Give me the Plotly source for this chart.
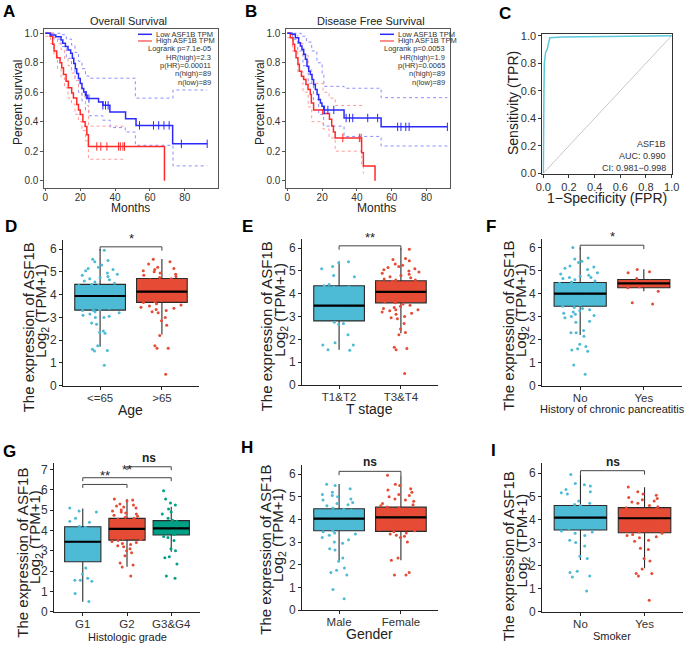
import numpy as np
import plotly.graph_objects as go

W, H = 685, 645
FONT = "Arial, Liberation Sans, sans-serif"
BLUE, RED, GREEN = "#4DBBD5", "#E64B35", "#00A087"

# ---------------- Kaplan-Meier data (A: overall survival) ----------------
A_low_t = [0, 3, 6, 9, 10, 11.5, 13, 14.5, 15.5, 16.3, 17.2, 18, 19, 20, 21, 22, 23, 24, 30.5, 33, 37, 46, 52, 73, 92.8]
A_low_s = [1.0, 0.989, 0.977, 0.955, 0.932, 0.91, 0.886, 0.864, 0.83, 0.795, 0.76, 0.727, 0.693, 0.66, 0.625,
           0.602, 0.58, 0.557, 0.534, 0.511, 0.466, 0.42, 0.375, 0.25, 0.25]
A_low_cens = [23.5, 25, 33, 34.5, 36, 54, 62, 65, 68, 71, 78, 92.8]
A_high_t = [0, 2.7, 4.2, 5, 6.5, 8.4, 9.4, 10.4, 11.9, 13.2, 15.1, 16.1, 18, 19, 20, 21.5, 22.8, 23.8, 24.7, 68.3]
A_high_s = [1.0, 0.98, 0.925, 0.88, 0.834, 0.80, 0.766, 0.72, 0.675, 0.63, 0.595, 0.561, 0.516, 0.48, 0.448,
            0.40, 0.368, 0.311, 0.232, 0.0]
A_high_cens = [29.5, 31.8, 35.3, 42, 43, 44.5, 45.4]
A_low_up_t = [0, 5, 9, 12, 15, 17, 19, 21, 23, 25, 51.6, 73.2, 92.8]
A_low_up_s = [1.0, 1.0, 0.99, 0.96, 0.92, 0.87, 0.81, 0.76, 0.71, 0.695, 0.56, 0.615, 0.615]
A_low_lo_t = [0, 5, 9, 12, 15, 17, 19, 21, 23, 25, 33, 37.2, 45.8, 51.6, 73.2, 92.8]
A_low_lo_s = [1.0, 0.96, 0.91, 0.83, 0.75, 0.68, 0.6, 0.54, 0.48, 0.44, 0.41, 0.36, 0.33, 0.24, 0.10, 0.10]
A_high_up_t = [0, 3, 5, 7, 9, 11, 13, 15, 17, 19, 21, 23, 24.7, 45.4]
A_high_up_s = [1.0, 1.0, 0.97, 0.93, 0.89, 0.83, 0.78, 0.73, 0.68, 0.63, 0.57, 0.51, 0.37, 0.37]
A_high_lo_t = [0, 3, 5, 7, 9, 11, 13, 15, 17, 19, 21, 23, 24.7, 45.4]
A_high_lo_s = [0.98, 0.93, 0.85, 0.76, 0.70, 0.63, 0.56, 0.52, 0.45, 0.40, 0.34, 0.27, 0.145, 0.145]
A_stats = ["Logrank p=7.1e-05", "HR(high)=2.3", "p(HR)=0.00011", "n(high)=89", "n(low)=89"]

# ---------------- Kaplan-Meier data (B: disease free survival) ----------------
B_low_t = [0, 2.7, 4.6, 6.5, 7.5, 8.4, 9.4, 10.4, 11.3, 12.3, 13.2, 14.2, 15.1, 16.1, 17.1, 18, 19, 19.9, 20.9, 32.6, 53.9, 92]
B_low_s = [1.0, 0.993, 0.97, 0.936, 0.914, 0.89, 0.857, 0.823, 0.777, 0.743, 0.72, 0.686, 0.652, 0.618, 0.584,
           0.55, 0.527, 0.505, 0.48, 0.425, 0.365, 0.365]
B_low_cens = [21.4, 23.3, 26.7, 33.8, 35.7, 37.6, 46.2, 51.9, 63.4, 65.3, 68.1, 70, 92]
B_high_t = [0, 1.7, 3.3, 4.2, 5.0, 6.1, 6.9, 8.1, 9.4, 10.7, 11.9, 13.2, 13.8, 15.1, 20.4, 24.2, 25.5, 26.5, 27.5, 42.7, 43.7, 50.4]
B_high_s = [1.0, 0.97, 0.925, 0.88, 0.834, 0.789, 0.743, 0.709, 0.686, 0.652, 0.618, 0.584, 0.527, 0.48, 0.455,
            0.416, 0.37, 0.33, 0.29, 0.19, 0.10, 0.0]
B_high_cens = [31.9, 41.4, 42.4]
B_low_up_t = [0, 5, 8, 11, 14, 17, 20, 21, 32.6, 53.9, 92]
B_low_up_s = [1.0, 1.0, 0.98, 0.94, 0.88, 0.8, 0.72, 0.64, 0.627, 0.563, 0.563]
B_low_lo_t = [0, 3, 6, 9, 12, 15, 18, 20.9, 32.6, 53.9, 92]
B_low_lo_s = [1.0, 0.96, 0.88, 0.78, 0.66, 0.55, 0.45, 0.37, 0.30, 0.235, 0.235]
B_high_up_t = [0, 3, 6, 9, 12, 14, 20.5, 24, 27.5, 43.7]
B_high_up_s = [1.0, 0.99, 0.93, 0.85, 0.76, 0.66, 0.6, 0.56, 0.51, 0.51]
B_high_lo_t = [0, 3, 6, 9, 12, 14, 20.5, 24, 27.5, 42.7, 43.7, 44]
B_high_lo_s = [0.97, 0.88, 0.74, 0.6, 0.5, 0.4, 0.35, 0.29, 0.2, 0.1, 0.05, 0.05]
B_stats = ["Logrank p=0.0053", "HR(high)=1.9", "p(HR)=0.0065", "n(high)=89", "n(low)=89"]

# ---------------- ROC (C) ----------------
roc_fpr = [0, 0, 0.005, 0.008, 0.012, 0.018, 0.03, 0.04, 0.05, 0.15, 0.6, 1.0]
roc_tpr = [0, 0.57, 0.6, 0.8, 0.86, 0.88, 0.9, 0.95, 0.985, 0.99, 0.995, 1.0]
roc_text = ["ASF1B", "AUC: 0.990", "CI: 0.981\u22120.998"]

# ---------------- Box plot data (D-I) ----------------
# stats order: q1, median, q3, lower whisker, upper whisker
D_cats = ["<=65", ">65"]
D_stats = [[3.32, 3.94, 4.45, 1.71, 6.0], [3.66, 4.13, 4.71, 2.25, 5.56]]
D_pts = [
    [5.95, 5.55, 5.45, 5.5, 5.3, 5.2, 5.15, 5.1, 5.05, 4.95, 4.9, 4.85, 4.8, 4.75, 4.7, 4.65, 4.6, 4.55, 4.5,
     4.45, 4.4, 4.4, 4.4, 4.35, 4.3, 4.25, 4.2, 4.15, 4.1, 4.05, 4.0, 3.95, 3.9, 3.9, 3.85, 3.8, 3.75, 3.7, 3.65,
     3.6, 3.55, 3.5, 3.45, 3.4, 3.35, 3.3, 3.3, 3.25, 3.2, 3.15, 3.1, 3.05, 3.0, 3.0, 2.75, 2.7, 2.4, 2.35, 2.3,
     1.75, 1.6, 1.55, 1.52, 0.9],
    [5.55, 5.45, 5.35, 5.2, 5.15, 5.1, 5.05, 5.0, 4.95, 4.9, 4.85, 4.8, 4.75, 4.7, 4.65, 4.6, 4.5, 4.45, 4.4,
     4.3, 4.25, 4.2, 4.15, 4.1, 4.05, 4.0, 3.95, 3.9, 3.85, 3.8, 3.75, 3.7, 3.65, 3.6, 3.55, 3.5, 3.45, 3.4,
     3.35, 3.3, 3.25, 3.2, 3.0, 2.85, 2.65, 2.2, 1.75, 1.65, 1.65, 0.5]]
D_brackets = [(0, 1, 6.1, "*")]

E_cats = ["T1&T2", "T3&T4"]
E_stats = [[2.81, 3.48, 4.35, 1.54, 5.42], [3.6, 4.08, 4.57, 2.27, 6.0]]
E_pts = [
    [5.4, 5.35, 5.2, 5.1, 4.8, 4.75, 4.4, 4.35, 4.3, 4.3, 3.5, 3.45, 2.75, 2.7, 2.65, 2.2, 1.85, 1.75, 1.75,
     1.55, 1.52],
    [5.95, 5.55, 5.5, 5.45, 5.3, 5.25, 5.2, 5.15, 5.1, 5.05, 5.0, 4.95, 4.9, 4.85, 4.8, 4.75, 4.7, 4.65, 4.6,
     4.6, 4.55, 4.5, 4.5, 4.45, 4.4, 4.35, 4.3, 4.25, 4.2, 4.15, 4.1, 4.1, 4.05, 4.0, 4.0, 3.95, 3.9, 3.85, 3.8,
     3.75, 3.7, 3.65, 3.6, 3.55, 3.5, 3.45, 3.4, 3.35, 3.3, 3.3, 3.25, 3.2, 3.15, 3.1, 3.0, 2.95, 2.9, 2.7,
     2.45, 2.3, 2.2, 1.65, 1.6, 1.55, 0.5]]
E_brackets = [(0, 1, 6.1, "**")]

F_cats = ["No", "Yes"]
F_stats = [[3.45, 4.0, 4.48, 2.2, 6.0], [4.25, 4.44, 4.61, 4.1, 5.06]]
F_pts = [
    [6.0, 5.55, 5.5, 5.4, 5.35, 5.2, 5.15, 5.1, 5.05, 4.9, 4.85, 4.8, 4.75, 4.7, 4.7, 4.65, 4.6, 4.55, 4.5,
     4.45, 4.4, 4.35, 4.3, 4.25, 4.2, 4.15, 4.1, 4.05, 4.0, 3.95, 3.9, 3.85, 3.8, 3.75, 3.7, 3.65, 3.6, 3.55,
     3.5, 3.45, 3.4, 3.35, 3.3, 3.25, 3.2, 3.15, 3.1, 3.05, 3.0, 2.95, 2.8, 2.75, 2.4, 2.3, 2.3, 2.15, 1.8,
     1.7, 1.6, 1.55, 1.5, 0.9, 0.5],
    [5.05, 4.95, 4.9, 4.65, 4.55, 4.45, 4.4, 4.3, 4.25, 4.1, 3.6, 3.55]]
F_brackets = [(0, 1, 6.1, "*")]

G_cats = ["G1", "G2", "G3&G4"]
G_stats = [[2.46, 3.44, 4.18, 0.49, 5.08], [3.52, 4.07, 4.59, 2.21, 5.54], [3.77, 4.1, 4.48, 2.95, 5.16]]
G_pts = [
    [5.1, 4.95, 4.9, 4.6, 4.45, 4.4, 4.2, 4.15, 3.45, 3.45, 2.15, 1.85, 1.65, 1.55, 1.55, 1.5, 0.9, 0.5],
    [5.55, 5.5, 5.45, 5.3, 5.25, 5.2, 5.15, 5.1, 5.0, 4.95, 4.9, 4.85, 4.8, 4.75, 4.7, 4.65, 4.6, 4.55, 4.5,
     4.45, 4.4, 4.35, 4.3, 4.25, 4.2, 4.15, 4.1, 4.05, 4.0, 3.95, 3.9, 3.85, 3.8, 3.75, 3.7, 3.65, 3.6, 3.55,
     3.5, 3.45, 3.4, 3.35, 3.3, 3.25, 3.2, 3.1, 3.0, 2.9, 2.75, 2.4, 2.3, 2.2, 1.75],
    [5.95, 5.55, 5.35, 5.25, 5.05, 4.9, 4.8, 4.6, 4.5, 4.45, 4.4, 4.3, 4.2, 4.15, 4.1, 4.05, 4.0, 3.95, 3.9,
     3.8, 3.7, 3.65, 3.5, 3.1, 3.0, 2.7, 2.65, 2.35, 1.75, 1.65]]
G_brackets = [(0, 1, 6.26, "**"), (0, 2, 6.59, "**"), (1, 2, 7.13, "ns")]

H_cats = ["Male", "Female"]
H_stats = [[3.5, 4.03, 4.47, 2.17, 5.56], [3.47, 4.09, 4.54, 2.2, 5.95]]
H_pts = [
    [5.55, 5.5, 5.35, 5.2, 5.1, 5.05, 5.0, 4.9, 4.85, 4.75, 4.7, 4.65, 4.6, 4.5, 4.45, 4.4, 4.35, 4.3, 4.25,
     4.2, 4.1, 4.05, 4.0, 3.95, 3.9, 3.85, 3.8, 3.7, 3.6, 3.5, 3.45, 3.4, 3.35, 3.3, 3.2, 3.1, 3.0, 2.95, 2.7,
     2.65, 2.3, 2.15, 1.85, 1.75, 1.65, 1.55, 0.9, 0.5],
    [5.95, 5.55, 5.5, 5.35, 5.3, 5.2, 5.1, 5.05, 5.0, 4.9, 4.85, 4.8, 4.7, 4.65, 4.6, 4.55, 4.5, 4.45, 4.4,
     4.3, 4.2, 4.1, 4.05, 4.0, 3.95, 3.9, 3.85, 3.8, 3.7, 3.6, 3.55, 3.5, 3.45, 3.4, 3.35, 3.3, 3.25, 3.2, 3.0,
     2.3, 2.2, 1.65, 1.55, 1.55]]
H_brackets = [(0, 1, 6.12, "ns")]

I_cats = ["No", "Yes"]
I_stats = [[3.54, 4.08, 4.6, 2.24, 5.95], [3.42, 4.05, 4.51, 1.88, 5.39]]
I_pts = [
    [5.95, 5.55, 5.5, 5.45, 5.3, 5.2, 5.15, 5.1, 4.8, 4.7, 4.65, 4.6, 4.5, 4.4, 4.3, 4.2, 4.1, 4.05, 4.0, 3.9,
     3.8, 3.6, 3.5, 3.45, 3.4, 3.3, 3.1, 3.0, 2.85, 2.4, 2.3, 1.75, 1.7, 1.55, 1.5, 0.9],
    [5.4, 5.2, 5.1, 5.05, 4.95, 4.9, 4.85, 4.8, 4.75, 4.7, 4.6, 4.55, 4.5, 4.45, 4.4, 4.35, 4.3, 4.2, 4.1,
     4.05, 4.0, 3.9, 3.85, 3.8, 3.7, 3.6, 3.5, 3.45, 3.4, 3.35, 3.3, 3.25, 3.2, 3.1, 3.05, 2.75, 2.7, 2.3, 2.2,
     1.85, 1.65, 1.65, 1.55, 0.5]]
I_brackets = [(0, 1, 6.11, "ns")]

# ---------------- layout helpers ----------------
def px(x):
    return x / W


def py(y):
    return 1 - y / H


def refs(i):
    return ("x" if i == 1 else f"x{i}"), ("y" if i == 1 else f"y{i}")


fig = go.Figure()
layout = dict(width=W, height=H, margin=dict(l=0, r=0, t=0, b=0, autoexpand=False), plot_bgcolor="white",
              paper_bgcolor="white", showlegend=False, boxmode="overlay",
              font=dict(family=FONT, color="#222"))
annotations, shapes = [], []

# panel domains in pixels: (x0, x1), (y_top, y_bottom)
dom = {
    1: ((44.3, 218), (29.3, 188.3)),
    2: ((286.3, 450), (29.3, 188.3)),
    3: ((542.3, 672.3), (34.3, 174)),
    4: ((63, 199), (240, 385.7)),
    5: ((302, 438), (239, 385)),
    6: ((542, 682), (239, 385.7)),
    7: ((54, 200), (463.3, 611.7)),
    8: ((302, 438), (465, 610)),
    9: ((542, 683), (463.3, 611.7)),
}
for i, ((x0, x1), (yt, yb)) in dom.items():
    xk = "xaxis" if i == 1 else f"xaxis{i}"
    yk = "yaxis" if i == 1 else f"yaxis{i}"
    xr, yr = refs(i)
    layout[xk] = dict(domain=[px(x0), px(x1)], anchor=yr, automargin=False)
    layout[yk] = dict(domain=[py(yb), py(yt)], anchor=xr, automargin=False)


def ann(x, y, text, size, **kw):
    d = dict(x=px(x), y=py(y), xref="paper", yref="paper", text=text, showarrow=False,
             font=dict(family=FONT, size=size, color=kw.pop("color", "#222")))
    d.update(kw)
    annotations.append(d)


# ---------------- KM panels ----------------
def step_at(t, s, c):
    idx = np.searchsorted(np.array(t), np.array(c), side="right") - 1
    return [s[k] for k in idx]


def km_panel(i, low, high, cis, xmax, stats, title, title_x, leg_x0, stat_x):
    xr, yr = refs(i)
    ci_cols = ["#8c8cff", "#8c8cff", "#ff9a9a", "#ff9a9a"]
    for (t, s), col in zip(cis, ci_cols):
        fig.add_trace(go.Scatter(x=t, y=s, mode="lines", line=dict(color=col, width=1, dash="dot", shape="hv"),
                                 xaxis=xr, yaxis=yr, hoverinfo="skip"))
    for (t, s, cens), col in [(high, "#ff2a2a"), (low, "#2a2aff")]:
        fig.add_trace(go.Scatter(x=t, y=s, mode="lines", line=dict(color=col, width=1.5, shape="hv"),
                                 xaxis=xr, yaxis=yr, hoverinfo="skip"))
        fig.add_trace(go.Scatter(x=cens, y=step_at(t, s, cens), mode="markers",
                                 marker=dict(symbol="line-ns", size=6, line=dict(color=col, width=1)),
                                 xaxis=xr, yaxis=yr, hoverinfo="skip"))
    xk = "xaxis" if i == 1 else f"xaxis{i}"
    yk = "yaxis" if i == 1 else f"yaxis{i}"
    layout[xk].update(range=[-0.6, xmax], tickvals=[0, 20, 40, 60, 80], showline=True, mirror=True,
                      linecolor="#555", linewidth=1, ticks="outside", ticklen=2, tickcolor="#555",
                      ticklabelstandoff=-2,
                      showgrid=False, zeroline=False, tickfont=dict(size=10, color="#333"))
    layout[yk].update(range=[-0.052, 1.027], tickvals=[0, 0.2, 0.4, 0.6, 0.8, 1.0], tickformat=".1f",
                      showline=True, mirror=True, linecolor="#555", linewidth=1, ticks="outside",
                      ticklen=3, tickcolor="#555", showgrid=False, zeroline=False,
                      tickfont=dict(size=10, color="#333"))
    # legend keys
    for yy, col, txt in [(34.3, "#2a2aff", "Low ASF1B TPM"), (41, "#ff6a6a", "High ASF1B TPM")]:
        shapes.append(dict(type="line", xref="paper", yref="paper", x0=px(leg_x0), x1=px(leg_x0 + 14),
                           y0=py(yy), y1=py(yy), line=dict(color=col, width=1.5)))
        ann(leg_x0 + 15.5, yy, txt, 7.5, xanchor="left", yanchor="middle", color="#333")
    for k, txt in enumerate(stats):
        ann(stat_x, 49 + 8.3 * k, txt, 7.5, xanchor="right", yanchor="middle", color="#333")
    ann(title_x, 21, title, 11, xanchor="center", yanchor="middle")


km_panel(1, (A_low_t, A_low_s, A_low_cens), (A_high_t, A_high_s, A_high_cens),
         [(A_low_up_t, A_low_up_s), (A_low_lo_t, A_low_lo_s), (A_high_up_t, A_high_up_s), (A_high_lo_t, A_high_lo_s)],
         99, A_stats, "Overall Survival", 128.7, 138, 213)
km_panel(2, (B_low_t, B_low_s, B_low_cens), (B_high_t, B_high_s, B_high_cens),
         [(B_low_up_t, B_low_up_s), (B_low_lo_t, B_low_lo_s), (B_high_up_t, B_high_up_s), (B_high_lo_t, B_high_lo_s)],
         93.5, B_stats, "Disease Free Survival", 370.7, 380, 447)
ann(18, 103, "Percent survival", 12, textangle=-90, xanchor="center", yanchor="middle")
ann(260, 103, "Percent survival", 12, textangle=-90, xanchor="center", yanchor="middle")
ann(130, 207.5, "Months", 12, xanchor="center", yanchor="middle")
ann(376, 207.5, "Months", 12, xanchor="center", yanchor="middle")

# ---------------- ROC panel ----------------
fig.add_trace(go.Scatter(x=[0, 1], y=[0, 1], mode="lines", line=dict(color="#c8c8c8", width=1),
                         xaxis="x3", yaxis="y3", hoverinfo="skip"))
fig.add_trace(go.Scatter(x=roc_fpr, y=roc_tpr, mode="lines", line=dict(color="#5cc8dc", width=1.5),
                         xaxis="x3", yaxis="y3", hoverinfo="skip"))
for ax, rng in [("xaxis3", [-0.008, 1.005]), ("yaxis3", [-0.005, 1.01])]:
    layout[ax].update(range=rng, tickvals=[0, 0.2, 0.4, 0.6, 0.8, 1.0], tickformat=".1f", showline=True,
                      mirror=True, linecolor="#333", linewidth=1, ticks="outside", ticklen=3, tickcolor="#333",
                      showgrid=False, zeroline=False, tickfont=dict(size=11, color="#333"))
for k, txt in enumerate(roc_text):
    ann(668.3, 144 + 11.8 * k, txt, 9, xanchor="right", yanchor="middle", color="#333")
ann(513, 103, "Sensitivity (TPR)", 14, textangle=-90, xanchor="center", yanchor="middle")
ann(606.7, 198.3, "1\u2212Specificity (FPR)", 14, xanchor="center", yanchor="middle")


# ---------------- box panels ----------------
def box_panel(i, cats, stats, pts, colors, brackets, ymax, xpad):
    xr, yr = refs(i)
    for cat, st, p, col in zip(cats, stats, pts, colors):
        fig.add_trace(go.Box(x=[cat], q1=[st[0]], median=[st[1]], q3=[st[2]], lowerfence=[st[3]],
                             upperfence=[st[4]], fillcolor=col, line=dict(color="#2b2b2b", width=1.1),
                             whiskerwidth=0, width=0.82, boxpoints=False, xaxis=xr, yaxis=yr, hoverinfo="skip"))
        fig.add_trace(go.Box(x=[cat] * len(p), y=p, boxpoints="all", jitter=0.85, pointpos=0,
                             fillcolor="rgba(0,0,0,0)", line=dict(color="rgba(0,0,0,0)", width=0),
                             marker=dict(color=col, size=3), width=0.82, xaxis=xr, yaxis=yr, hoverinfo="skip"))
        fig.add_trace(go.Box(x=[cat], q1=[st[1]], median=[st[1]], q3=[st[1]], lowerfence=[st[1]],
                             upperfence=[st[1]], fillcolor="rgba(0,0,0,0)", line=dict(color="black", width=2.2),
                             whiskerwidth=0, width=0.82, boxpoints=False, xaxis=xr, yaxis=yr, hoverinfo="skip"))
    for a, b, h, lab in brackets:
        d = 0.17
        fig.add_trace(go.Scatter(x=[cats[a], cats[a], cats[b], cats[b]], y=[h - d, h, h, h - d], mode="lines",
                                 line=dict(color="#444", width=1), xaxis=xr, yaxis=yr, hoverinfo="skip"))
        annotations.append(dict(x=(a + b) / 2, y=h + (0.0 if lab == "ns" else -0.05), xref=xr, yref=yr,
                                text=f"<b>{lab}</b>" if lab == "ns" else lab, showarrow=False,
                                yanchor="bottom", font=dict(family=FONT, size=12 if lab == "ns" else 13,
                                                            color="#222")))
    xk, yk = f"xaxis{i}", f"yaxis{i}"
    n = len(cats)
    layout[xk].update(type="category", categoryorder="array", categoryarray=cats,
                      range=[-xpad, n - 1 + xpad], showline=True, linecolor="#222", linewidth=1,
                      ticks="outside", ticklen=3, tickcolor="#222", showgrid=False, zeroline=False,
                      ticklabelstandoff=-2, tickfont=dict(size=11.5, color="#333"))
    layout[yk].update(range=[0, ymax], dtick=1, showline=True, linecolor="#222", linewidth=1,
                      ticks="outside", ticklen=3, tickcolor="#222", showgrid=False, zeroline=False,
                      tickfont=dict(size=12, color="#333"))


box_panel(4, D_cats, D_stats, D_pts, [BLUE, RED], D_brackets, 6.4, 0.6)
box_panel(5, E_cats, E_stats, E_pts, [BLUE, RED], E_brackets, 6.4, 0.6)
box_panel(6, F_cats, F_stats, F_pts, [BLUE, RED], F_brackets, 6.37, 0.6)
box_panel(7, G_cats, G_stats, G_pts, [BLUE, RED, GREEN], G_brackets, 7.3, 0.65)
box_panel(8, H_cats, H_stats, H_pts, [BLUE, RED], H_brackets, 6.4, 0.6)
box_panel(9, I_cats, I_stats, I_pts, [BLUE, RED], I_brackets, 6.43, 0.6)

# y titles for box panels: (line1 x, line1 y, line2 x, line2 y)
ytitle_pos = [(28.3, 327, 41.7, 311), (266.3, 326, 279.7, 310), (507.7, 326, 521, 310),
              (21.7, 553, 35, 537), (264.7, 550, 278, 535), (508.3, 556, 521.5, 541)]
for x1, y1, x2, y2 in ytitle_pos:
    ann(x1, y1, "The expression of ASF1B", 15, textangle=-90, xanchor="center", yanchor="middle")
    ann(x2, y2, "Log<sub>2</sub> (TPM+1)", 15, textangle=-90, xanchor="center", yanchor="middle")

xtitles = [(130, 410, "Age", 14), (369.7, 409, "T stage", 14), (612.3, 408.8, "History of chronic pancreatitis", 11),
           (127.7, 637.3, "Histologic grade", 11), (369.7, 634, "Gender", 14), (612.3, 635.5, "Smoker", 11)]
for x, y, t, s in xtitles:
    ann(x, y, t, s, xanchor="center", yanchor="middle")

# panel letters
letters = [("A", 9, 11.5), ("B", 250.5, 11.5), ("C", 504.5, 13), ("D", 11, 226), ("E", 247, 226),
           ("F", 491, 226.5), ("G", 9.5, 451), ("H", 247, 447.5), ("I", 493, 450.5)]
for t, x, y in letters:
    ann(x, y, f"<b>{t}</b>", 17, xanchor="center", yanchor="middle", color="black")

layout["annotations"] = annotations
layout["shapes"] = shapes
fig.update_layout(**layout)
fig.write_html("out.html", config={"displayModeBar": False},
               post_script="document.body.style.margin='0px';document.body.style.padding='0px';"
                           "document.body.style.overflow='hidden';")
